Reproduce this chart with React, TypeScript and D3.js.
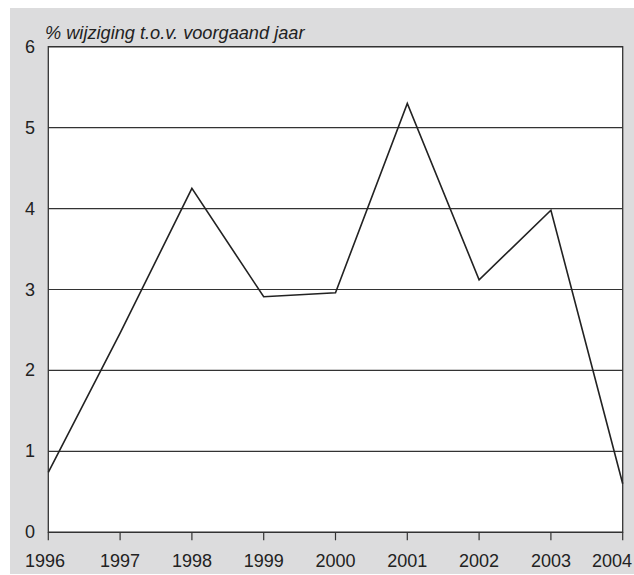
import React from "react";
import * as d3 from "d3";

const years: number[] = [1996, 1997, 1998, 1999, 2000, 2001, 2002, 2003, 2004];
const values: number[] = [0.74, 2.46, 4.25, 2.91, 2.96, 5.3, 3.12, 3.98, 0.6];
const yTicks: number[] = [0, 1, 2, 3, 4, 5, 6];
const title = "% wijziging t.o.v. voorgaand jaar";

const W = 634;
const H = 575;
const left = 48.3;
const right = 622.7;
const top = 46.7;
const bottom = 532.3;

export default function App() {
  const x = d3.scaleLinear().domain([1996, 2004]).range([left, right]);
  const y = d3.scaleLinear().domain([0, 6]).range([bottom, top]);
  const line = d3
    .line<number>()
    .x((_, i) => x(years[i]))
    .y((d) => y(d));
  const font = "'Liberation Sans', Arial, Helvetica, sans-serif";
  return (
    <svg
      width={W}
      height={H}
      style={{ position: "absolute", left: 0, top: 0 }}
      fontFamily={font}
    >
      <rect x={10} y={8} width={W - 10} height={566} fill="#dcdcdd" />
      <rect x={left} y={top} width={right - left} height={bottom - top} fill="#ffffff" />
      {yTicks.map((t) => (
        <g key={t}>
          <line x1={left} x2={right} y1={y(t)} y2={y(t)} stroke="#333" strokeWidth={1.2} />
          <text
            x={35}
            y={y(t)}
            textAnchor="end"
            dominantBaseline="central"
            fontSize={18}
            fill="#222"
          >
            {t}
          </text>
        </g>
      ))}
      <rect
        x={left}
        y={top}
        width={right - left}
        height={bottom - top}
        fill="none"
        stroke="#333"
        strokeWidth={1.3}
      />
      {years.map((yr, i) => (
        <g key={yr}>
          <line x1={x(yr)} x2={x(yr)} y1={bottom} y2={bottom + 8} stroke="#333" strokeWidth={1.2} />
          <text
            x={i === 0 ? 25 : i === years.length - 1 ? 632 : x(yr)}
            y={567}
            textAnchor={i === 0 ? "start" : i === years.length - 1 ? "end" : "middle"}
            fontSize={18}
            fill="#222"
          >
            {yr}
          </text>
        </g>
      ))}
      <path d={line(values) || ""} fill="none" stroke="#222" strokeWidth={1.6} strokeLinejoin="miter" />
      <text x={45} y={39} fontSize={18.2} fontStyle="italic" fill="#222">
        {title}
      </text>
    </svg>
  );
}
